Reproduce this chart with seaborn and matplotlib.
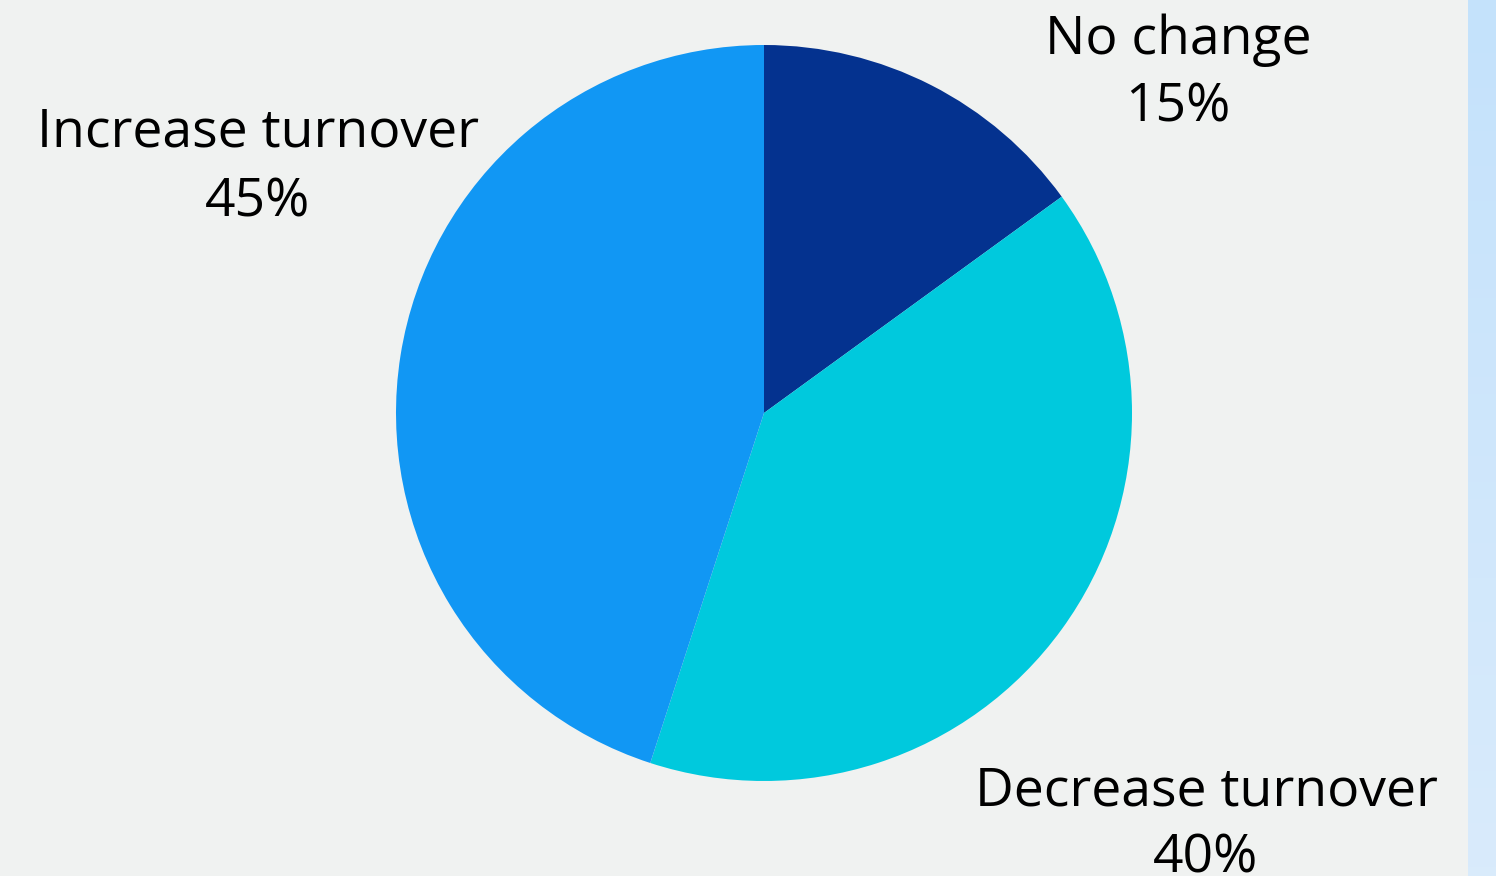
import numpy as np
import matplotlib
matplotlib.use("Agg")
import matplotlib.pyplot as plt
import seaborn as sns

# data
categories = ["No change", "Decrease turnover", "Increase turnover"]
shares = [15, 40, 45]
colors = ["#04328F", "#00C9DD", "#1197F4"]

sns.set_theme(style="white")
plt.rcParams["font.family"] = ["Open Sans", "DejaVu Sans"]

bg = "#F0F2F1"
fig = plt.figure(figsize=(14.96, 8.76), dpi=100, facecolor=bg)

# light blue strip at the right edge
strip = fig.add_axes([1468 / 1496, 0, 28 / 1496, 1])
grad = np.linspace(0, 1, 100).reshape(-1, 1)
cmap = matplotlib.colors.LinearSegmentedColormap.from_list("s", ["#C4E2FB", "#D9EBFB"])
strip.imshow(grad, aspect="auto", cmap=cmap, extent=[0, 1, 0, 1], origin="upper")
strip.axis("off")

ax = fig.add_axes([0, 0, 1, 1])
ax.set_facecolor("none")
pal = sns.color_palette(colors)
ax.pie(shares, colors=pal, startangle=90, counterclock=False,
       center=(764, 463), radius=368, frame=True,
       wedgeprops=dict(linewidth=0))
ax.set_xlim(0, 1496)
ax.set_ylim(0, 876)
ax.set_aspect("equal")
ax.axis("off")

label_pos = {
    "No change": (1178, 836, 768),
    "Decrease turnover": (1206, 84, 17),
    "Increase turnover": (258, 743, 673),
}
for cat, val in zip(categories, shares):
    x, y1, y2 = label_pos[cat]
    ax.text(x, y1, cat, ha="center", va="center", fontsize=38.5, color="black")
    ax.text(x, y2, f"{val}%", ha="center", va="center", fontsize=38.5, color="black")

fig.savefig("out.png", dpi=100, facecolor=bg)
